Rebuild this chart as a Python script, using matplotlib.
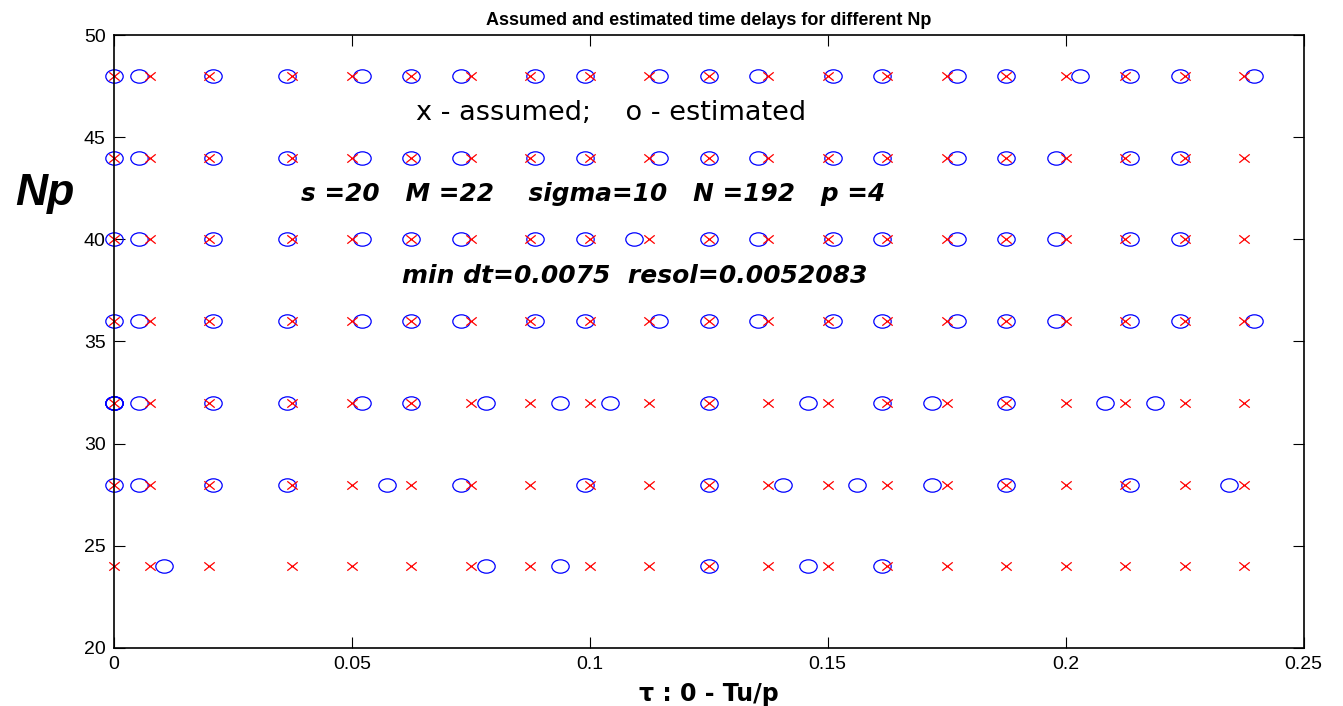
import numpy as np
import matplotlib
matplotlib.use("Agg")
import matplotlib.pyplot as plt
from matplotlib import font_manager
from matplotlib.path import Path
from matplotlib.transforms import Affine2D

# assumed delays (same set for every Np)
assumed = [0, 0.0075, 0.02, 0.0375, 0.05, 0.0625, 0.075, 0.0875, 0.1, 0.1125,
           0.125, 0.1375, 0.15, 0.1625, 0.175, 0.1875, 0.2, 0.2125, 0.225, 0.2375]

np_values = [24, 28, 32, 36, 40, 44, 48]

# estimated delays, as bin indices on the resol grid
resol = 0.0052083
est_bins = {
  24: [2, 15, 18, 24, 28, 31],
  28: [0, 1, 4, 7, 11, 14, 19, 24, 27, 30, 33, 36, 41, 45],
  32: [0, 0, 0, 0, 1, 4, 7, 10, 12, 15, 18, 20, 24, 28, 31, 33, 36, 40, 42],
  36: [0, 1, 4, 7, 10, 12, 14, 17, 19, 22, 24, 26, 29, 31, 34, 36, 38, 41, 43, 46],
  40: [0, 1, 4, 7, 10, 12, 14, 17, 19, 21, 24, 26, 29, 31, 34, 36, 38, 41, 43],
  44: [0, 1, 4, 7, 10, 12, 14, 17, 19, 22, 24, 26, 29, 31, 34, 36, 38, 41, 43],
  48: [0, 1, 4, 7, 10, 12, 14, 17, 19, 22, 24, 26, 29, 31, 34, 36, 39, 41, 43, 46],
}

installed = {f.name for f in font_manager.fontManager.ttflist}
narrow = 'Liberation Sans Narrow' if 'Liberation Sans Narrow' in installed else 'Liberation Sans'
plt.rcParams['font.family'] = [narrow, 'DejaVu Sans']

# matlab-like squashed markers
oval = Path.unit_circle().transformed(Affine2D().scale(1.3, 1.0))
cross = Path([(-1.25, -1), (1.25, 1), (-1.25, 1), (1.25, -1)],
             [Path.MOVETO, Path.LINETO, Path.MOVETO, Path.LINETO])

fig = plt.figure(figsize=(13.43, 7.06), dpi=100)
ax = fig.add_axes([0.0849, 0.0822, 0.8857, 0.8682])

for n in np_values:
  est = np.array(est_bins[n]) * resol
  ax.plot(est, [n] * len(est), ls='none', marker=oval, ms=12.5,
          mfc='none', mec='blue', mew=0.9, clip_on=False)
  ax.plot(assumed, [n] * len(assumed), ls='none', marker=cross, ms=7.5,
          mec='red', mew=0.9, clip_on=False)

ax.set_xlim(0, 0.25)
ax.set_ylim(20, 50)
ax.set_xticks(np.arange(0, 0.251, 0.05))
ax.set_xticklabels(['0', '0.05', '0.1', '0.15', '0.2', '0.25'])
ax.set_yticks(range(20, 51, 5))
ax.tick_params(direction='in', length=8, width=0.8, top=True, right=True,
               labelsize=14, pad=6)
for sp in ax.spines.values():
  sp.set_linewidth(1.2)

wide = ['DejaVu Sans']

ax.set_title('Assumed and estimated time delays for different Np',
             fontsize=13, fontweight='bold', pad=7)
ax.set_xlabel('τ : 0 - Tu/p', fontsize=17, fontweight='bold', family=wide,
              labelpad=6)
ax.set_ylabel('Np', fontsize=32, fontweight='bold', style='italic',
              family='Liberation Sans', rotation=0, va='center', ha='center')
ax.yaxis.set_label_coords(-0.058, 0.742)

ax.text(0.0635, 46.2, 'x - assumed;    o - estimated', fontsize=19.5,
        family=wide, va='center')
ax.text(0.0393, 42.2, 's =20   M =22    sigma=10   N =192   p =4',
        fontsize=17.8, family=wide, fontweight='bold', style='italic', va='center')
ax.text(0.0605, 38.2, 'min dt=0.0075  resol=0.0052083',
        fontsize=18, family=wide, fontweight='bold', style='italic', va='center')

fig.savefig('out.png', dpi=100)
